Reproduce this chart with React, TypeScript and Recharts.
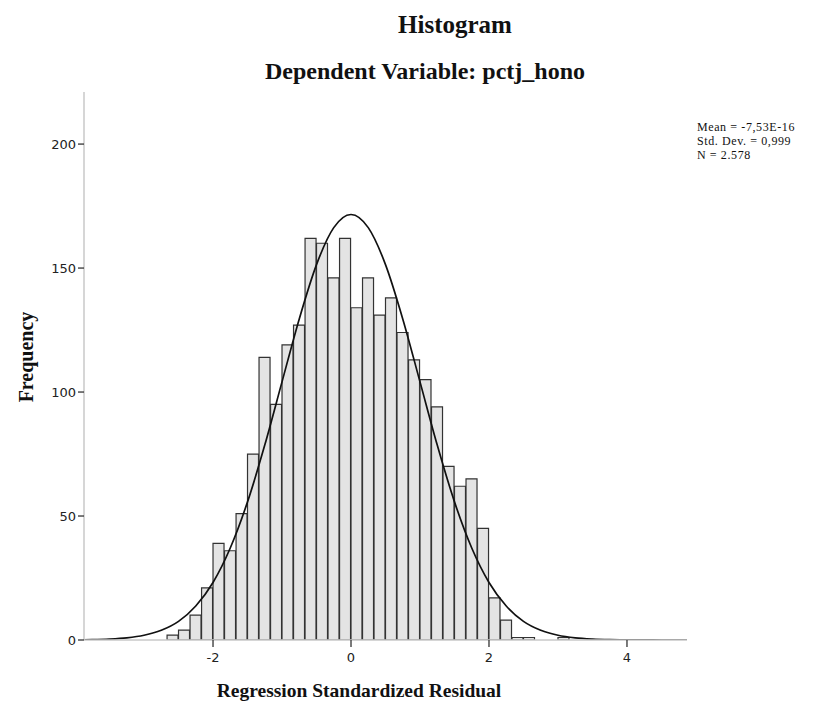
import { ComposedChart, Bar, Line, XAxis, YAxis } from 'recharts'

// histogram bins (width 1/6), centre of each bin
const binMids = [
  -2.583, -2.417, -2.25, -2.083, -1.917, -1.75, -1.583, -1.417, -1.25, -1.083, -0.917, -0.75,
  -0.583, -0.417, -0.25, -0.083, 0.083, 0.25, 0.417, 0.583, 0.75, 0.917, 1.083, 1.25, 1.417,
  1.583, 1.75, 1.917, 2.083, 2.25, 2.417, 2.583, 2.75, 2.917, 3.083,
]
const binCounts = [
  2, 4, 10, 21, 39, 36, 51, 75, 114, 95, 119, 127, 162, 160, 146, 162, 134, 146, 131, 138, 124,
  113, 105, 94, 70, 62, 65, 45, 17, 8, 1, 1, 0, 0, 1,
]

// normal curve heights
const curveX = [
  -4, -3.75, -3.5, -3.25, -3, -2.75, -2.5, -2.25, -2, -1.75, -1.5, -1.25, -1, -0.75, -0.5, -0.25, 0,
  0.25, 0.5, 0.75, 1, 1.25, 1.5, 1.75, 2, 2.25, 2.5, 2.75, 3, 3.25, 3.5, 3.75, 4, 4.25, 4.5, 4.75, 5,
]
const curveY = [
  0.06, 0.15, 0.38, 0.87, 1.9, 3.9, 7.5, 13.7, 23.2, 37.1, 55.7, 78.6, 104.1, 129.5, 151.4, 166.3,
  171.6, 166.3, 151.4, 129.5, 104.1, 78.6, 55.7, 37.1, 23.2, 13.7, 7.5, 3.9, 1.9, 0.87, 0.38, 0.15,
  0.06, 0.02, 0.01, 0, 0,
]

const xTicks = [-2, 0, 2, 4]
const yTicks = [0, 50, 100, 150, 200]
const stats = ['Mean = -7,53E-16', 'Std. Dev. = 0,999', 'N = 2.578']

const bins = binMids.map((x, i) => ({ x, freq: binCounts[i] }))
const curve = curveX.map((x, i) => ({ x, density: curveY[i] }))

const serif = '"Liberation Serif", "Times New Roman", serif'
const tickFont = { fontSize: 13, fontFamily: '"DejaVu Sans", sans-serif', fill: '#222' }
const axisLine = { stroke: '#c8c8c8', strokeWidth: 1.5 }
const tickLine = { stroke: '#333', strokeWidth: 1.3 }

export default function App() {
  return (
    <div style={{ position: 'absolute', left: 0, top: 0, width: 827, height: 703, background: '#fff' }}>
      <ComposedChart
        width={827}
        height={703}
        data={bins}
        margin={{ top: 92, right: 140, left: 24, bottom: 33 }}
        barCategoryGap={0}
        barGap={0}
      >
        <XAxis
          dataKey="x"
          type="number"
          domain={[-3.87, 4.87]}
          allowDataOverflow
          ticks={xTicks}
          interval={0}
          tick={tickFont}
          tickSize={7}
          tickMargin={6}
          axisLine={axisLine}
          tickLine={tickLine}
        />
        <XAxis xAxisId="curve" dataKey="x" type="number" domain={[-3.87, 4.87]} allowDataOverflow hide />
        <YAxis
          width={60}
          domain={[0, 221]}
          allowDataOverflow
          ticks={yTicks}
          interval={0}
          tick={tickFont}
          tickSize={6}
          tickMargin={2}
          axisLine={axisLine}
          tickLine={tickLine}
        />
        <Bar dataKey="freq" fill="#e4e4e4" stroke="#333" strokeWidth={1.2} isAnimationActive={false} />
        <Line
          xAxisId="curve"
          data={curve}
          dataKey="density"
          type="monotone"
          stroke="#111"
          strokeWidth={1.7}
          dot={false}
          activeDot={false}
          isAnimationActive={false}
        />
      </ComposedChart>
      <svg
        width={827}
        height={703}
        style={{ position: 'absolute', left: 0, top: 0, pointerEvents: 'none' }}
      >
        <text x={455} y={33} textAnchor="middle" fontFamily={serif} fontWeight="bold" fontSize={25} fill="#111">
          Histogram
        </text>
        <text x={425} y={79} textAnchor="middle" fontFamily={serif} fontWeight="bold" fontSize={24} fill="#111">
          Dependent Variable: pctj_hono
        </text>
        <text
          transform="translate(33,357) rotate(-90)"
          textAnchor="middle"
          fontFamily={serif}
          fontWeight="bold"
          fontSize={20}
          fill="#111"
        >
          Frequency
        </text>
        <text x={359} y={697} textAnchor="middle" fontFamily={serif} fontWeight="bold" fontSize={19.5} fill="#111">
          Regression Standardized Residual
        </text>
        {stats.map((s, i) => (
          <text
            key={s}
            x={697}
            y={131 + i * 14}
            fontFamily={serif}
            fontSize={12}
            letterSpacing={0.6}
            fill="#111"
          >
            {s}
          </text>
        ))}
      </svg>
    </div>
  )
}
